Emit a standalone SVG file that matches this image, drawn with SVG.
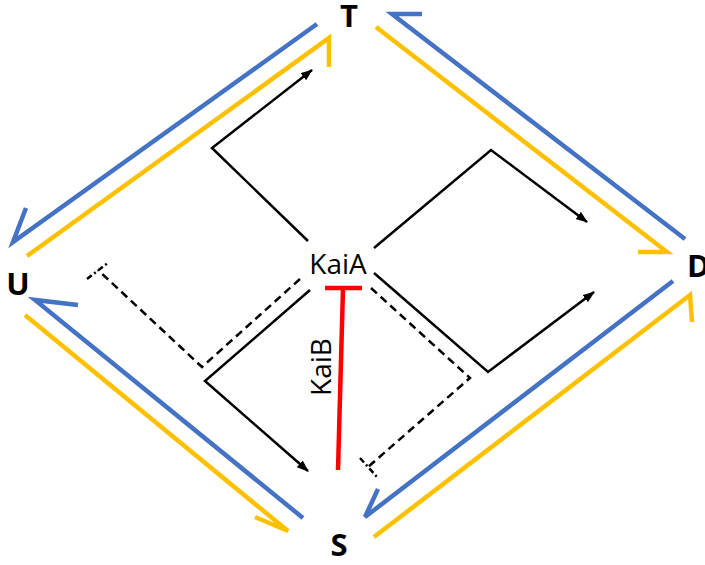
<svg xmlns="http://www.w3.org/2000/svg" width="705" height="565" viewBox="0 0 705 565">
  <defs>
    <marker id="ah" markerUnits="userSpaceOnUse" markerWidth="12" markerHeight="10" refX="11" refY="4.5" orient="auto">
      <path d="M0,0 L12,4.5 L0,9 Z" fill="#000"/>
    </marker>
  </defs>
  <style>
    .blue{fill:none;stroke:#4472C4;stroke-width:4.5;stroke-linejoin:miter}
    .yel{fill:none;stroke:#FFC000;stroke-width:4.5;stroke-linejoin:miter}
    .arr{fill:none;stroke:#000;stroke-width:2.5;marker-end:url(#ah)}
    .dash{fill:none;stroke:#000;stroke-width:2.5;stroke-dasharray:8 5}
    .bar{fill:none;stroke:#000;stroke-width:2.5;stroke-dasharray:6 3 2 3}
    .red{fill:none;stroke:#FF0000;stroke-width:4.5}
    .lbl{font-family:"Open Sans","Liberation Sans",sans-serif;font-weight:bold;font-size:31px;fill:#000}
    .kai{font-family:"Open Sans","Liberation Sans",sans-serif;font-size:28px;fill:#000}
  </style>
  <g id="connectors">
    <polyline class="blue" points="317,24 13,242 26,208"/>
    <polyline class="blue" points="685,239 392,14 422,14"/>
    <polyline class="blue" points="303,518 35,300 78,305"/>
    <polyline class="blue" points="673,281 365,517 378,489"/>
    <polyline class="yel" points="27,256 329,38 329,67"/>
    <polyline class="yel" points="376,27 667,252 638,252"/>
    <polyline class="yel" points="25,315 288,531 255,517"/>
    <polyline class="yel" points="374,537 690,295 692,322"/>
    <polyline class="arr" points="308,241 212,148 312,70"/>
    <polyline class="arr" points="374,248 491,150 587,222"/>
    <polyline class="arr" points="374,273 488,372 594,292"/>
    <polyline class="arr" points="310,290 205,381 308,471"/>
    <polyline class="dash" points="300,279 202,367 98,270"/>
    <line class="bar" x1="87" y1="279" x2="109" y2="262"/>
    <polyline class="dash" points="371,288 470,378 368,467"/>
    <line class="bar" x1="360" y1="458" x2="377" y2="477"/>
    <line class="red" x1="325" y1="288" x2="362" y2="288"/>
    <line class="red" x1="343" y1="288" x2="338" y2="470"/>
    <text class="kai" x="331" y="367" text-anchor="middle" transform="rotate(-90 331 367)" font-size="26">KaiB</text>
  </g>
  <g id="node-T"><text class="lbl" x="349" y="27" text-anchor="middle">T</text></g>
  <g id="node-D"><text class="lbl" x="687" y="277">D</text></g>
  <g id="node-U"><text class="lbl" x="18" y="295" text-anchor="middle">U</text></g>
  <g id="node-S"><text class="lbl" x="339" y="556" text-anchor="middle">S</text></g>
  <g id="node-KaiA"><text class="kai" x="338" y="274" text-anchor="middle">KaiA</text></g>
</svg>
